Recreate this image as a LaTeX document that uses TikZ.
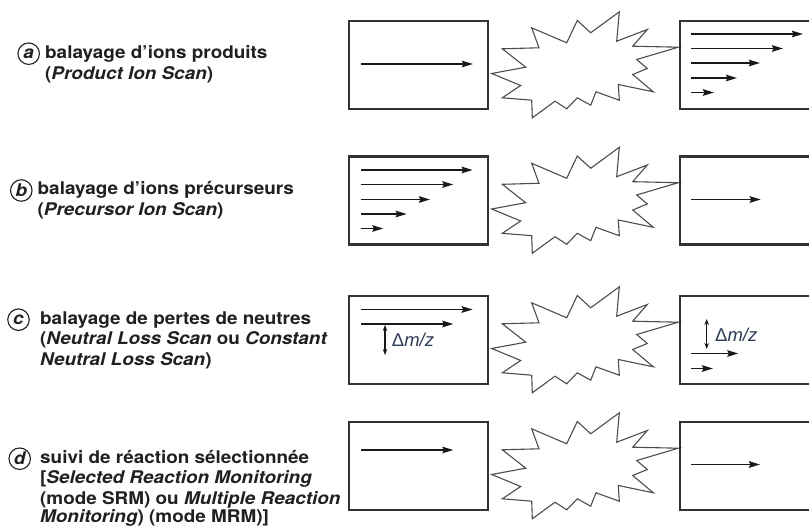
\documentclass[tikz,border=0pt]{standalone}
\usepackage{fontspec}
\setmainfont[FakeStretch=1.08]{TeX Gyre Heros}
\newfontfamily\dfont{Liberation Sans}
\usetikzlibrary{arrows.meta}
\definecolor{ink}{HTML}{231F20}
\definecolor{boxc}{HTML}{333333}
\definecolor{burstc}{HTML}{4D4D4D}
\definecolor{dmz}{HTML}{2E3B55}
\tikzset{
 frame/.style={draw=boxc, line width=2.2pt, minimum width=139pt, minimum height=88pt, inner sep=0pt, outer sep=0pt},
 ray/.style={draw=black!90, line width=1.8pt, -{Stealth[length=11pt,width=6.5pt,inset=1.5pt]}},
 dbl/.style={draw=black!90, line width=1.1pt, {Stealth[length=6pt,width=4.5pt]}-{Stealth[length=6pt,width=4.5pt]}},
 burst/.style={draw=burstc, line width=1.1pt, line join=miter},
 lbl/.style={anchor=base west, inner sep=0pt, text=ink, font=\fontsize{17.5}{21}\selectfont\bfseries},
 tag/.style={circle, draw=ink, line width=1.1pt, minimum size=21.5pt, inner sep=0pt, text=ink, font=\fontsize{17.5}{20}\selectfont\bfseries\itshape},
 dm/.style={anchor=west, inner sep=0pt, text=dmz, font=\fontsize{18.5}{20}\selectfont\dfont},
}
\begin{document}
\begin{tikzpicture}[x=1pt,y=-1pt]
\clip (0,0) rectangle (809,526);
\fill[white] (0,0) rectangle (809,526);
% labels
\node[tag] (ta) at (28.7,53.7) {a};
\node[lbl] (a1) at (45,58.3) {balayage d’ions produits};
\node[lbl] (a2) at (45,80) {(\textit{Product Ion Scan})};
\node[tag] (tb) at (21.3,190.5) {b};
\node[lbl] (b1) at (37.5,195) {balayage d’ions précurseurs};
\node[lbl] (b2) at (37.5,216) {(\textit{Precursor Ion Scan})};
\node[tag] (tc) at (18.5,319.7) {c};
\node[lbl] (c1) at (40,324.3) {balayage de pertes de neutres};
\node[lbl] (c2) at (40,345) {(\textit{Neutral Loss Scan} ou \textit{Constant}};
\node[lbl] (c3) at (40,366) {\textit{Neutral Loss Scan})};
\node[tag] (td) at (19.7,458.7) {d};
\node[lbl] (d1) at (40,463.3) {suivi de réaction sélectionnée};
\node[lbl] (d2) at (40,484) {[\textit{Selected Reaction Monitoring}};
\node[lbl] (d3) at (40,504.3) {(mode SRM) ou \textit{Multiple Reaction}};
\node[lbl] (d4) at (40,522) {\textit{Monitoring}) (mode MRM)]};
% bursts
\foreach \yc in {65,200.5,340,466}{
\draw[burst, shift={(0,\yc)}] (491.7,8.5) -- (525.7,2.2) -- (502.3,-16.2) -- (539,-17.2) -- (531.7,-37.2) -- (566.7,-22.2) -- (577.3,-44.5) -- (590.7,-32.2) -- (619.3,-53.2) -- (616.7,-23.8) -- (647.3,-35.5) -- (632.7,-18.8) -- (678.3,-17.8) -- (636.7,-5.5) -- (647.3,3.5) -- (632.7,9.5) -- (653.3,26.8) -- (618.3,19.5) -- (619.3,35.2) -- (596,26.8) -- (590.7,40.2) -- (577.3,32.8) -- (566.7,43.8) -- (555,36.2) -- (532.3,52.8) -- (531.7,35.2) -- (502.3,32.8) -- (520.7,20.5) -- cycle;
}
% boxes
\node[frame] (la) at (418.5,65) {};
\node[frame, minimum width=160pt] (ra) at (760,65) {};
\node[frame] (lb) at (418.5,200.5) {};
\node[frame, minimum width=160pt] (rb) at (760,200.5) {};
\node[frame] (lc) at (418.5,340) {};
\node[frame, minimum width=160pt] (rc) at (760,340) {};
\node[frame] (ld) at (418.5,466) {};
\node[frame, minimum width=160pt] (rd) at (760,466) {};
% row a
\draw[ray] (361,64) -- (473,64);
\draw[ray] (691,34) -- (803,34);
\draw[ray] (691,48.5) -- (783,48.5);
\draw[ray] (691,63) -- (760,63);
\draw[ray] (691,78) -- (737,78);
\draw[ray] (691,92.5) -- (714,92.5);
% row b
\draw[ray] (361,170) -- (472.7,170);
\draw[ray] (361,184.5) -- (453.3,184.5);
\draw[ray] (361,199.5) -- (430,199.5);
\draw[ray] (361,214) -- (406.7,214);
\draw[ray] (361,228.5) -- (383.3,228.5);
\draw[ray] (691,199.5) -- (760.7,199.5);
% row c
\draw[ray] (361,309.5) -- (472.7,309.5);
\draw[ray] (361,324) -- (453.3,324);
\draw[dbl] (385,325) -- (385,355);
\node[dm] (dl) at (391.7,340) {Δ\itshape m/z};
\draw[dbl] (706.7,319) -- (706.7,349);
\node[dm] (dr) at (715,335) {Δ\itshape m/z};
\draw[ray] (691,353.5) -- (738.3,353.5);
\draw[ray] (691,368.5) -- (713,368.5);
% row d
\draw[ray] (361,450) -- (453.3,450);
\draw[ray] (691,464.5) -- (760,464.5);
\end{tikzpicture}
\end{document}
